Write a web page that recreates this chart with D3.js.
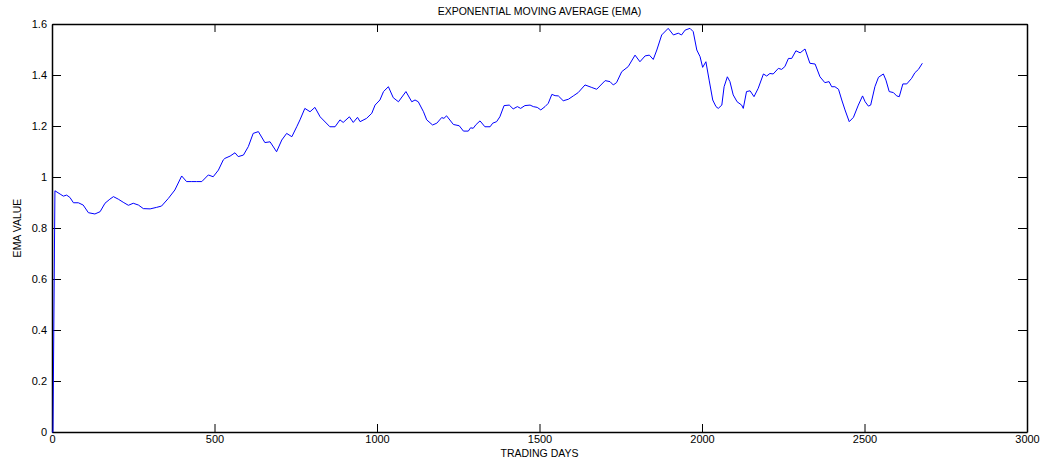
<!DOCTYPE html>
<html>
<head>
<meta charset="utf-8">
<script src="https://cdn.jsdelivr.net/npm/d3@7"></script>
<style>
	body { margin: 0; background: #fff; }
	svg { display: block; font-family: "Liberation Sans", Arial, sans-serif; }
	.axis path, .axis line { stroke: #000; }
	.axis text { fill: #000; font-size: 11px; }
</style>
</head>
<body>
<script>
const titleText = "EXPONENTIAL MOVING AVERAGE (EMA)";
const xLabelText = "TRADING DAYS";
const yLabelText = "EMA VALUE";

const xTicks = [0, 500, 1000, 1500, 2000, 2500, 3000];
const yTicks = [0, 0.2, 0.4, 0.6, 0.8, 1, 1.2, 1.4, 1.6];

const days = [0, 3, 9, 25, 35, 45, 55, 66, 81, 96, 112, 132, 148, 163, 178, 189, 204, 219, 235, 250, 266, 281, 302, 322, 337, 358, 378, 399, 414, 430, 445, 461, 481, 496, 512, 527,
	532, 548, 563, 573, 589, 604, 619, 635, 655, 671, 691, 707, 722, 738, 753, 763, 778, 794, 809, 825, 855, 871, 886, 896, 915, 927, 940, 948, 968, 984, 994,
	1009, 1020, 1035, 1050, 1066, 1089, 1107, 1117, 1127, 1143, 1153, 1171, 1184, 1199, 1206, 1214, 1235, 1253, 1266, 1281, 1288, 1296, 1305, 1317, 1332, 1348,
	1356, 1368, 1378, 1391, 1407, 1419, 1432, 1442, 1455, 1471, 1481, 1493, 1504, 1517, 1527, 1538, 1548, 1558, 1573, 1589, 1604, 1619, 1640, 1661, 1676, 1702,
	1717, 1727, 1737, 1753, 1773, 1794, 1809, 1825, 1838, 1850, 1861, 1876, 1896, 1912, 1927, 1937, 1948, 1963, 1973, 1984, 1994, 2002, 2012, 2022, 2033, 2043,
	2050, 2061, 2068, 2078, 2086, 2096, 2108, 2122, 2127, 2137, 2148, 2160, 2173, 2189, 2199, 2209, 2219, 2235, 2245, 2255, 2266, 2276, 2289, 2302, 2317, 2332,
	2348, 2363, 2378, 2391, 2399, 2409, 2420, 2430, 2440, 2453, 2466, 2481, 2494, 2502, 2512, 2519, 2532, 2543, 2558, 2566, 2576, 2589, 2599, 2607, 2618, 2630,
	2645, 2655, 2666, 2678];

const emaValues = [0, 0, 0.946, 0.933, 0.925, 0.929, 0.920, 0.899, 0.899, 0.890, 0.860, 0.855, 0.864, 0.897, 0.913, 0.923, 0.913, 0.901, 0.889, 0.897, 0.890, 0.876, 0.875, 0.881, 0.886, 0.916, 0.949, 1.004, 0.982, 0.982, 0.982, 0.982, 1.008, 1.001, 1.027, 1.067,
	1.073, 1.082, 1.095, 1.080, 1.086, 1.119, 1.171, 1.178, 1.135, 1.138, 1.099, 1.145, 1.171, 1.158, 1.197, 1.224, 1.269, 1.256, 1.273, 1.236, 1.197, 1.197, 1.224, 1.214, 1.236, 1.214, 1.234, 1.217, 1.230, 1.250, 1.282,
	1.302, 1.335, 1.354, 1.311, 1.295, 1.335, 1.295, 1.302, 1.295, 1.256, 1.224, 1.204, 1.211, 1.233, 1.230, 1.240, 1.206, 1.201, 1.180, 1.180, 1.193, 1.191, 1.206, 1.220, 1.197, 1.197,
	1.211, 1.217, 1.236, 1.280, 1.282, 1.267, 1.276, 1.269, 1.280, 1.282, 1.276, 1.273, 1.263, 1.276, 1.289, 1.324, 1.319, 1.318, 1.299, 1.305, 1.318, 1.331, 1.361, 1.351, 1.344, 1.378,
	1.374, 1.361, 1.370, 1.413, 1.433, 1.478, 1.452, 1.475, 1.478, 1.461, 1.498, 1.557, 1.583, 1.557, 1.564, 1.557, 1.576, 1.583, 1.570, 1.498, 1.472, 1.430, 1.452, 1.380, 1.302, 1.276,
	1.269, 1.282, 1.354, 1.393, 1.374, 1.322, 1.295, 1.282, 1.269, 1.335, 1.338, 1.315, 1.348, 1.404, 1.396, 1.406, 1.404, 1.426, 1.422, 1.433, 1.465, 1.465, 1.495, 1.487, 1.502, 1.446,
	1.443, 1.393, 1.370, 1.374, 1.354, 1.354, 1.344, 1.302, 1.263, 1.217, 1.234, 1.282, 1.318, 1.295, 1.278, 1.282, 1.354, 1.391, 1.404, 1.380, 1.335, 1.331, 1.318, 1.315, 1.365, 1.365,
	1.387, 1.409, 1.422, 1.446];

function constructChart() {
	const width = 1045;
	const height = 461;
	const margin = {top: 24, right: 18, bottom: 29, left: 52};

	const data = days.map((d, i) => ({day: d, value: emaValues[i]}));

	const scaleX = d3.scaleLinear().domain([0, 3000]).range([margin.left, width - margin.right]);
	const scaleY = d3.scaleLinear().domain([0, 1.6]).range([height - margin.bottom, margin.top]);

	const svg = d3.select("body")
		.append("svg")
		.attr("width", width)
		.attr("height", height);

	const fmt = d => String(d);

	// bottom + left axes with labels, ticks pointing inward
	svg.append("g")
		.attr("class", "axis")
		.attr("transform", `translate(0,${scaleY(0)})`)
		.call(d3.axisBottom(scaleX).tickValues(xTicks).tickFormat(fmt).tickSizeInner(-8).tickSizeOuter(0).tickPadding(3));

	svg.append("g")
		.attr("class", "axis")
		.attr("transform", `translate(${scaleX(0)},0)`)
		.call(d3.axisLeft(scaleY).tickValues(yTicks).tickFormat(fmt).tickSizeInner(-9).tickSizeOuter(0).tickPadding(5));

	// mirrored top + right axes, no labels
	svg.append("g")
		.attr("class", "axis")
		.attr("transform", `translate(0,${scaleY(1.6)})`)
		.call(d3.axisTop(scaleX).tickValues(xTicks).tickFormat("").tickSizeInner(-8).tickSizeOuter(0));

	svg.append("g")
		.attr("class", "axis")
		.attr("transform", `translate(${scaleX(3000)},0)`)
		.call(d3.axisRight(scaleY).tickValues(yTicks).tickFormat("").tickSizeInner(-9).tickSizeOuter(0));

	svg.selectAll(".axis .domain").attr("stroke-width", 1.5);

	svg.append("path")
		.datum(data)
		.attr("fill", "none")
		.attr("stroke", "#0000ff")
		.attr("stroke-width", 1)
		.attr("stroke-linejoin", "round")
		.attr("d", d3.line()
			.x(d => scaleX(d.day))
			.y(d => scaleY(d.value)));

	svg.append("text")
		.attr("x", (scaleX(0) + scaleX(3000)) / 2)
		.attr("y", 15)
		.attr("text-anchor", "middle")
		.style("font-size", "10.5px")
		.text(titleText);

	svg.append("text")
		.attr("x", (scaleX(0) + scaleX(3000)) / 2)
		.attr("y", 457)
		.attr("text-anchor", "middle")
		.style("font-size", "10.5px")
		.text(xLabelText);

	svg.append("text")
		.attr("transform", `translate(21,${(scaleY(0) + scaleY(1.6)) / 2}) rotate(-90)`)
		.attr("text-anchor", "middle")
		.style("font-size", "10.5px")
		.text(yLabelText);
}

constructChart();
</script>
</body>
</html>
